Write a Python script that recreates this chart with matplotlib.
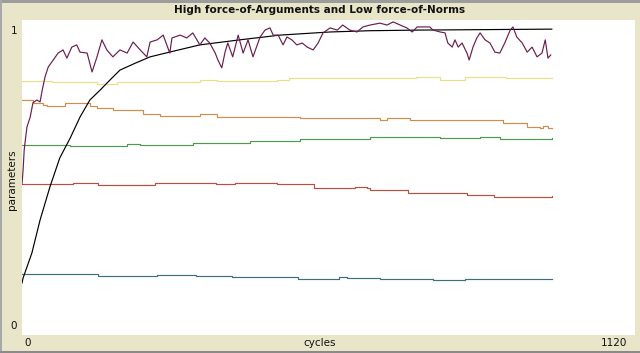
import matplotlib
matplotlib.use("Agg")
import matplotlib.pyplot as plt
from matplotlib.patches import Rectangle

# ---------------- data (cycles, parameter values) ----------------
x_max = 1120
y_min, y_max = 0, 1

black_c = [0, 2, 18, 33, 51, 69, 88, 106, 124, 143, 161, 179, 207, 234, 279, 325, 398, 471, 563, 636, 727, 968]
black_v = [0.165, 0.181, 0.260, 0.365, 0.470, 0.562, 0.625, 0.692, 0.746, 0.778, 0.810, 0.841, 0.863, 0.883,
           0.902, 0.921, 0.937, 0.952, 0.962, 0.966, 0.968, 0.971]

purple_c = [0, 2, 4, 5, 9, 15, 20, 27, 33, 37, 42, 48, 57, 66, 75, 82, 91, 100, 106, 119, 128, 137, 146, 155,
            166, 179, 192, 203, 216, 228, 234, 247, 258, 270, 274, 289, 301, 312, 325, 334, 343, 353, 358, 365,
            371, 376, 385, 395, 404, 413, 422, 435, 444, 453, 459, 468, 477, 484, 493, 502, 512, 521, 532, 541,
            550, 563, 576, 586, 599, 612, 623, 636, 654, 667, 678, 691, 703, 713, 722, 745, 751, 764, 773, 778,
            786, 791, 797, 804, 813, 817, 824, 831, 837, 846, 855, 864, 873, 882, 892, 897, 904, 914, 923, 932,
            941, 950, 956, 961, 966]
purple_v = [0.479, 0.524, 0.587, 0.603, 0.660, 0.692, 0.737, 0.746, 0.740, 0.778, 0.819, 0.851, 0.873, 0.895,
            0.905, 0.879, 0.914, 0.921, 0.898, 0.895, 0.835, 0.883, 0.937, 0.905, 0.883, 0.905, 0.895, 0.930,
            0.905, 0.883, 0.930, 0.937, 0.952, 0.895, 0.943, 0.952, 0.943, 0.959, 0.921, 0.943, 0.927, 0.895,
            0.873, 0.848, 0.898, 0.927, 0.883, 0.952, 0.895, 0.937, 0.883, 0.946, 0.968, 0.975, 0.952, 0.952,
            0.921, 0.946, 0.937, 0.921, 0.927, 0.914, 0.905, 0.927, 0.959, 0.975, 0.968, 0.984, 0.968, 0.962,
            0.978, 0.984, 0.990, 0.984, 0.994, 0.984, 0.975, 0.962, 0.978, 0.978, 0.968, 0.962, 0.959, 0.927,
            0.914, 0.937, 0.914, 0.927, 0.895, 0.873, 0.914, 0.943, 0.959, 0.937, 0.927, 0.898, 0.895, 0.927,
            0.968, 0.978, 0.946, 0.927, 0.898, 0.914, 0.883, 0.895, 0.937, 0.879, 0.889]

yellow_c = [0, 55, 137, 174, 234, 325, 356, 465, 488, 652, 720, 764, 810, 884, 968]
yellow_v = [0.806, 0.803, 0.797, 0.803, 0.803, 0.810, 0.806, 0.810, 0.816, 0.816, 0.819, 0.810, 0.819, 0.816, 0.816]

orange_c = [0, 20, 38, 46, 79, 124, 137, 166, 221, 252, 325, 356, 508, 654, 667, 709, 873, 879, 923, 946, 952, 961, 968]
orange_v = [0.746, 0.737, 0.730, 0.727, 0.737, 0.727, 0.721, 0.714, 0.702, 0.695, 0.702, 0.692, 0.689, 0.683,
            0.689, 0.683, 0.683, 0.673, 0.660, 0.657, 0.663, 0.657, 0.657]

green_c = [0, 88, 192, 216, 301, 312, 417, 508, 636, 764, 837, 873, 968]
green_v = [0.603, 0.600, 0.606, 0.603, 0.603, 0.610, 0.616, 0.622, 0.629, 0.625, 0.629, 0.622, 0.625]

red_c = [0, 93, 139, 243, 355, 389, 466, 515, 534, 609, 631, 636, 695, 705, 800, 813, 851, 862, 968]
red_v = [0.478, 0.483, 0.476, 0.483, 0.478, 0.482, 0.478, 0.478, 0.467, 0.469, 0.467, 0.460, 0.460, 0.450,
         0.450, 0.444, 0.444, 0.438, 0.440]

blue_c = [0, 93, 139, 183, 247, 318, 384, 504, 579, 594, 654, 751, 810, 968]
blue_v = [0.194, 0.195, 0.188, 0.186, 0.190, 0.187, 0.183, 0.179, 0.183, 0.180, 0.178, 0.175, 0.178, 0.178]

title = "High force-of-Arguments and Low force-of-Norms"
x_label = "cycles"
y_label = "parameters"
x_tick_labels = ["0", "1120"]
y_tick_labels = ["0", "1"]

# ---------------- figure ----------------
W, H = 640, 353
bg = "#e8e5c9"
fig = plt.figure(figsize=(W / 100, H / 100), dpi=100, facecolor=bg)

ax = fig.add_axes([22 / W, 1 - 335 / H, 613 / W, 315 / H])
ax.set_facecolor("white")
ax.set_xlim(0, x_max)
ax.set_ylim(y_min, y_max)
for s in ax.spines.values():
    s.set_visible(False)
ax.set_xticks([])
ax.set_yticks([])

lw = 0.85
ax.plot(yellow_c, yellow_v, color="#e9df8a", lw=lw, drawstyle="steps-post")
ax.plot(orange_c, orange_v, color="#cf8d4f", lw=lw, drawstyle="steps-post")
ax.plot(green_c, green_v, color="#4e9a4e", lw=lw, drawstyle="steps-post")
ax.plot(red_c, red_v, color="#b8503f", lw=lw, drawstyle="steps-post")
ax.plot(blue_c, blue_v, color="#3b6f7f", lw=lw, drawstyle="steps-post")
ax.plot(black_c, black_v, color="black", lw=lw)
ax.plot(purple_c, purple_v, color="#6b1d4d", lw=lw)

# window borders
fig.patches.append(Rectangle((0, 1 - 3 / H), 1, 3 / H, transform=fig.transFigure,
                             facecolor="#9c9c9c", edgecolor="none"))
fig.patches.append(Rectangle((0, 0), 2 / W, 1, transform=fig.transFigure,
                             facecolor="#a8a8a8", edgecolor="none"))
fig.patches.append(Rectangle((0, 0), 1, 2 / H, transform=fig.transFigure,
                             facecolor="#8a8a8a", edgecolor="none"))

fs = 7.5
fig.text(320 / W, 1 - 10 / H, title, ha="center", va="center", fontsize=fs, fontweight="bold", color="#111111")
fig.text(320 / W, 1 - 343 / H, x_label, ha="center", va="center", fontsize=fs, color="#111111")
fig.text(12 / W, 1 - 180 / H, y_label, ha="center", va="center", fontsize=fs, rotation=90, color="#111111")
fig.text(28 / W, 1 - 343 / H, x_tick_labels[0], ha="center", va="center", fontsize=fs, color="#111111")
fig.text(627 / W, 1 - 343 / H, x_tick_labels[1], ha="right", va="center", fontsize=fs, color="#111111")
fig.text(14 / W, 1 - 326 / H, y_tick_labels[0], ha="center", va="center", fontsize=fs, color="#111111")
fig.text(14 / W, 1 - 31 / H, y_tick_labels[1], ha="center", va="center", fontsize=fs, color="#111111")

fig.savefig("out.png", dpi=100, facecolor=bg)
